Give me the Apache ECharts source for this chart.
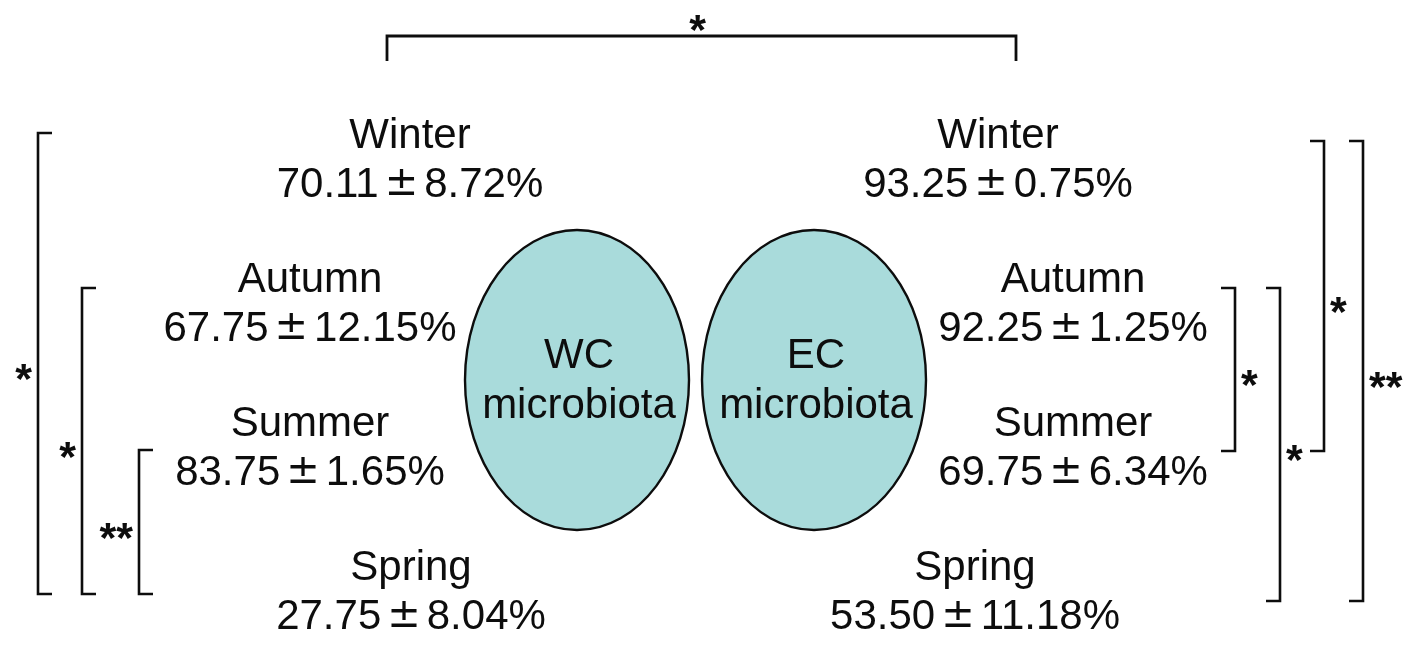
<!DOCTYPE html>
<html><head><meta charset="utf-8">
<script src="https://cdn.jsdelivr.net/npm/echarts@6/dist/echarts.min.js"></script>
<style>html,body{margin:0;padding:0;background:#ffffff}#c{width:1417px;height:647px}</style>
</head><body><div id="c"></div>
<script>
// ---------------- data ----------------
const seasons = ['Winter', 'Autumn', 'Summer', 'Spring'];
const groupLabels = ['WC\nmicrobiota', 'EC\nmicrobiota'];
const wcMean = [70.11, 67.75, 83.75, 27.75];
const wcSD = [8.72, 12.15, 1.65, 8.04];
const ecMean = [93.25, 92.25, 69.75, 53.50];
const ecSD = [0.75, 1.25, 6.34, 11.18];
const wcComparisons = [['Winter', 'Spring', '*'], ['Autumn', 'Spring', '*'], ['Summer', 'Spring', '**']];
const ecComparisons = [['Autumn', 'Summer', '*'], ['Autumn', 'Spring', '*'], ['Winter', 'Summer', '*'], ['Winter', 'Spring', '**']];
const betweenGroups = [['Winter', '*']];

// ---------------- layout & style ----------------
const layout = {
  wcColX: [410, 310, 310, 411],
  ecColX: [998, 1073, 1073, 975],
  labelDy: -24, valueDy: 25,
  ellipseX: [577, 814], ellipseRow: 1.528, ellipseRx: 112, ellipseRy: 150,
  wcLaneX: [38, 82, 139],
  ecLaneX: [1235, 1280, 1324, 1363],
  wcEnd: [-27, -16, 2, 2],
  ecEnd: [-19, -16, 3, 9],
  tick: 14, starGap: 6, starDy: 8, starFont: 43,
  topLeftX: 387, topRightX: 1016, topDy: -124, topTick: 25, topStarDy: -14
};
const FONT = '"Liberation Sans", Arial, Helvetica, sans-serif';
const PMFONT = '"DejaVu Sans", "Liberation Sans", sans-serif';
const INK = '#0d0d0d';
const FILL = '#a9dbdb';

const fmt = v => v.toFixed(2);
const rowOf = name => seasons.indexOf(name);

// ---------------- build series data ----------------
const textData = [];
seasons.forEach((s, i) => textData.push([layout.wcColX[i], i, 0]));
seasons.forEach((s, i) => textData.push([layout.ecColX[i], i, 1]));

const ellipseData = groupLabels.map((g, k) => [layout.ellipseX[k], layout.ellipseRow, k]);

const bracketData = [];
const bracketStars = [];
wcComparisons.forEach((c, k) => { bracketData.push([layout.wcLaneX[k], rowOf(c[0]), rowOf(c[1]), 0]); bracketStars.push(c[2]); });
ecComparisons.forEach((c, k) => { bracketData.push([layout.ecLaneX[k], rowOf(c[0]), rowOf(c[1]), 1]); bracketStars.push(c[2]); });

const topData = betweenGroups.map(b => [layout.topLeftX, layout.topRightX, rowOf(b[0])]);

// ---------------- chart ----------------
const chart = echarts.init(document.getElementById('c'), null, { renderer: 'canvas' });

const starStyle = (text, align) => ({
  text: text, fill: INK, fontFamily: FONT, fontSize: layout.starFont, fontWeight: 'bold',
  align: align, verticalAlign: 'middle'
});

const option = {
  backgroundColor: '#ffffff',
  animation: false,
  grid: { left: 0, right: 0, top: 0, bottom: 0, containLabel: false },
  xAxis: { type: 'value', min: 0, max: 1417, show: false },
  yAxis: { type: 'value', min: -1.1111, max: 3.3819, inverse: true, show: false },
  series: [
    {
      type: 'custom', clip: false, data: ellipseData,
      renderItem: (params, api) => {
        const p = api.coord([api.value(0), api.value(1)]);
        const k = api.value(2);
        return {
          type: 'group', children: [
            { type: 'ellipse', shape: { cx: p[0], cy: p[1], rx: layout.ellipseRx, ry: layout.ellipseRy },
              style: { fill: FILL, stroke: INK, lineWidth: 2.4 } },
            { type: 'text', x: p[0] + 2, y: p[1] + 1,
              style: { text: groupLabels[k], fill: INK, fontFamily: FONT, fontSize: 42, lineHeight: 50,
                       align: 'center', verticalAlign: 'middle' } }
          ]
        };
      }
    },
    {
      type: 'custom', clip: false, data: textData,
      renderItem: (params, api) => {
        const p = api.coord([api.value(0), api.value(1)]);
        const i = api.value(1), g = api.value(2);
        const m = g === 0 ? wcMean[i] : ecMean[i];
        const sd = g === 0 ? wcSD[i] : ecSD[i];
        return {
          type: 'group', children: [
            { type: 'text', x: p[0], y: p[1] + layout.labelDy,
              style: { text: seasons[i], fill: INK, fontFamily: FONT, fontSize: 42, align: 'center', verticalAlign: 'middle' } },
            { type: 'text', x: p[0], y: p[1] + layout.valueDy,
              style: { text: '{n|' + fmt(m) + '}{pm|±}{n|' + fmt(sd) + '%}', align: 'center', verticalAlign: 'middle',
                       rich: { n: { fill: INK, fontFamily: FONT, fontSize: 42, lineHeight: 46 },
                               pm: { fill: INK, fontFamily: PMFONT, fontSize: 40, lineHeight: 46, padding: [0, 6] } } } }
          ]
        };
      }
    },
    {
      type: 'custom', clip: false, data: bracketData,
      renderItem: (params, api) => {
        const lane = api.value(0), r1 = api.value(1), r2 = api.value(2), side = api.value(3);
        const ends = side === 0 ? layout.wcEnd : layout.ecEnd;
        const a = api.coord([lane, r1]), b = api.coord([lane, r2]);
        const x = a[0], y1 = a[1] + ends[r1], y2 = b[1] + ends[r2];
        const dir = side === 0 ? 1 : -1;
        const t = layout.tick * dir;
        const mid = (y1 + y2) / 2;
        return {
          type: 'group', children: [
            { type: 'polyline', shape: { points: [[x + t, y1], [x, y1], [x, y2], [x + t, y2]] },
              style: { stroke: INK, lineWidth: 2.6, fill: null } },
            { type: 'text', x: side === 0 ? x - layout.starGap : x + layout.starGap, y: mid + layout.starDy + 10,
              style: starStyle(bracketStars[params.dataIndex], side === 0 ? 'right' : 'left') }
          ]
        };
      }
    },
    {
      type: 'custom', clip: false, data: topData,
      renderItem: (params, api) => {
        const a = api.coord([api.value(0), api.value(2)]);
        const b = api.coord([api.value(1), api.value(2)]);
        const y = a[1] + layout.topDy;
        return {
          type: 'group', children: [
            { type: 'polyline', shape: { points: [[a[0], y + layout.topTick], [a[0], y], [b[0], y], [b[0], y + layout.topTick]] },
              style: { stroke: INK, lineWidth: 2.8, fill: null } },
            { type: 'text', x: (a[0] + b[0]) / 2 - 4, y: y + layout.topStarDy + 10,
              style: starStyle(betweenGroups[params.dataIndex][1], 'center') }
          ]
        };
      }
    }
  ]
};
chart.setOption(option);
</script>
</body></html>
